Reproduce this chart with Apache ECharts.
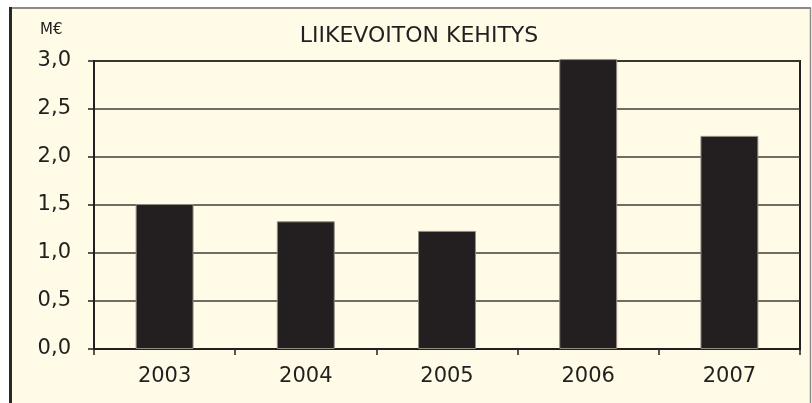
<!DOCTYPE html>
<html>
<head>
<meta charset="utf-8">
<script src="https://cdn.jsdelivr.net/npm/echarts@6/dist/echarts.min.js"></script>
<style>
html,body{margin:0;padding:0;background:#ffffff;}
#c{width:812px;height:403px;}
</style>
</head>
<body>
<div id="c"></div>
<script>
const categories = ['2003', '2004', '2005', '2006', '2007'];
const values = [1.51, 1.33, 1.23, 3.02, 2.22];
const titleText = 'LIIKEVOITON KEHITYS';
const unitText = 'M€';

const FONT = 'DejaVu Sans';
const chart = echarts.init(document.getElementById('c'), null, {renderer: 'canvas'});
chart.setOption({
  animation: false,
  backgroundColor: '#ffffff',
  graphic: [
    {type: 'rect', z: -10, silent: true, shape: {x: 10, y: 8, width: 801, height: 400},
     style: {fill: '#fffbe7', stroke: null}},
    {type: 'line', z: -9, silent: true, shape: {x1: 10, y1: 8, x2: 811, y2: 8},
     style: {stroke: '#8c8a85', lineWidth: 2}},
    {type: 'line', z: -9, silent: true, shape: {x1: 810.5, y1: 8, x2: 810.5, y2: 403},
     style: {stroke: '#8c8a85', lineWidth: 1.5}},
    {type: 'line', z: -9, silent: true, shape: {x1: 10.5, y1: 7, x2: 10.5, y2: 403},
     style: {stroke: '#2a2727', lineWidth: 3}},
    {type: 'text', silent: true, left: 40, top: 23,
     style: {text: unitText, font: '15px "' + FONT + '"', fill: '#231f20'}}
  ],
  title: {
    text: titleText,
    left: 414, top: 20,
    textAlign: 'center',
    textStyle: {fontFamily: FONT, fontSize: 22, fontWeight: 'normal', color: '#231f20'}
  },
  grid: {
    left: 94, right: 12, top: 61, bottom: 54,
    show: true, backgroundColor: 'transparent', borderColor: '#231f20', borderWidth: 2
  },
  xAxis: {
    type: 'category',
    data: categories,
    axisLine: {lineStyle: {color: '#231f20', width: 2}},
    axisTick: {show: true, length: 6, alignWithLabel: false, lineStyle: {color: '#231f20', width: 1.5}},
    axisLabel: {fontFamily: FONT, fontSize: 21, color: '#231f20', margin: 17}
  },
  yAxis: {
    type: 'value',
    min: 0, max: 3, interval: 0.5,
    axisLine: {show: true, lineStyle: {color: '#231f20', width: 2}},
    axisTick: {show: true, length: 6, lineStyle: {color: '#231f20', width: 1.5}},
    splitLine: {show: true, lineStyle: {color: '#3f3c39', width: 1.5}},
    axisLabel: {
      fontFamily: FONT, fontSize: 21, color: '#231f20', margin: 23,
      formatter: v => v.toFixed(1).replace('.', ',')
    }
  },
  series: [{
    type: 'bar',
    data: values,
    barWidth: '41%',
    clip: false,
    z: 5,
    itemStyle: {color: '#231f20', borderColor: '#8f8c84', borderWidth: 1}
  }]
});
</script>
</body>
</html>
